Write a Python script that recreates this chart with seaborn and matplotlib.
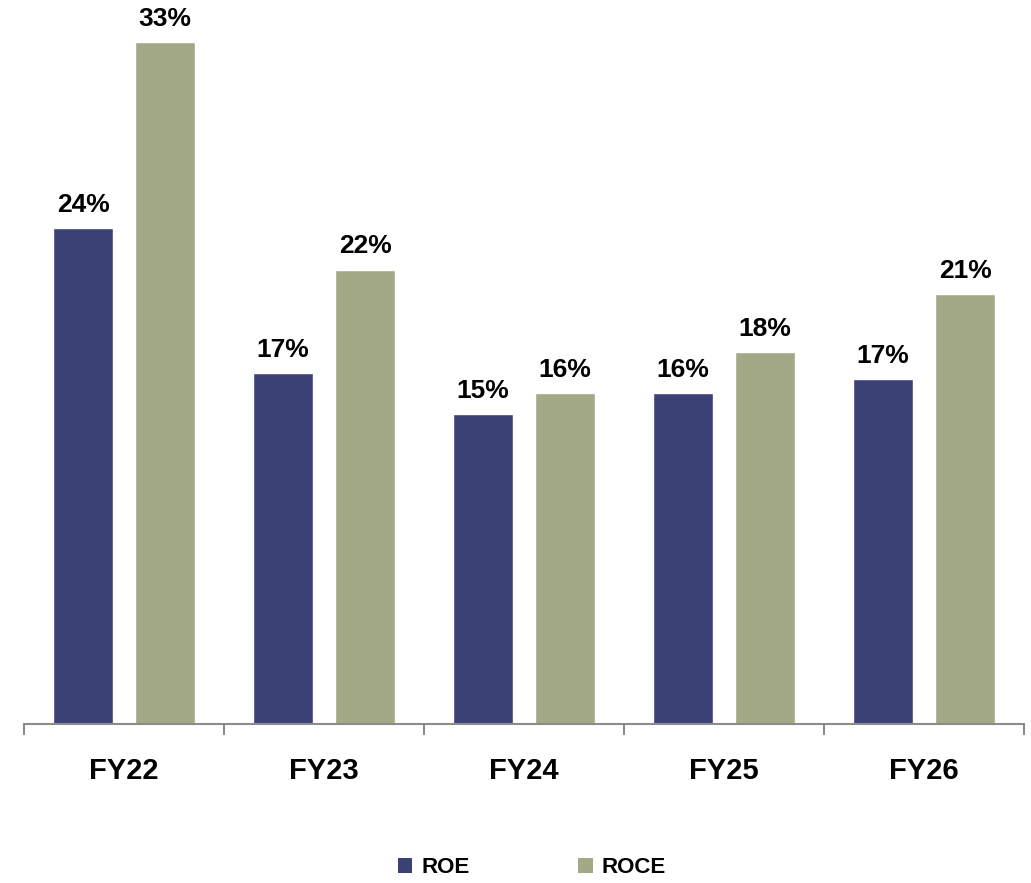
import numpy as np
import pandas as pd
import seaborn as sns
import matplotlib.pyplot as plt
from matplotlib.patches import Patch

# datos del grafico
years = ["FY22", "FY23", "FY24", "FY25", "FY26"]
roe = [24.0, 17.0, 15.0, 16.0, 16.7]
roce = [33.0, 22.0, 16.0, 18.0, 20.8]
series = ["ROE", "ROCE"]
colors = ["#3B4175", "#A3A987"]

df = pd.DataFrame({
    "year": years * 2,
    "metric": ["ROE"] * len(years) + ["ROCE"] * len(years),
    "value": roe + roce,
})

sns.set_style("white")
plt.rcParams["font.family"] = ["Liberation Sans", "DejaVu Sans"]

fig = plt.figure(figsize=(10.31, 8.83), dpi=100)
ax = fig.add_axes([24 / 1031, 159 / 883, 1000 / 1031, 723 / 883])

sns.barplot(data=df, x="year", y="value", hue="metric", hue_order=series,
            palette=colors, width=0.82, gap=0.27, ax=ax, legend=False,
            saturation=1, errorbar=None)

# etiquetas de valor
for cont in ax.containers:
    vals = cont.datavalues
    ax.bar_label(cont, labels=[f"{round(v)}%" for v in vals], padding=8,
                 fontsize=19, fontweight="bold", color="black")

ax.set_xlim(-0.5, len(years) - 0.5)
ax.set_ylim(0, 35)
ax.set_xlabel("")
ax.set_ylabel("")
ax.set_yticks([])
for s in ["left", "top", "right"]:
    ax.spines[s].set_visible(False)
ax.spines["bottom"].set_color("#8c8c8c")
ax.spines["bottom"].set_linewidth(1.5)

ax.set_xticks(np.arange(-0.5, len(years), 1.0), minor=True)
ax.tick_params(axis="x", which="major", length=0, pad=24, labelsize=21,
               labelcolor="black")
ax.tick_params(axis="x", which="minor", length=8, width=1.5, color="#8c8c8c",
               direction="out", bottom=True)
for t in ax.get_xticklabels():
    t.set_fontweight("bold")

handles = [Patch(facecolor=c, edgecolor="none", label=s) for s, c in zip(series, colors)]
leg = fig.legend(handles=handles, loc="center", bbox_to_anchor=(0.516, 0.017), ncol=2,
                 frameon=False, handlelength=0.65, handleheight=0.65, handletextpad=0.4,
                 columnspacing=4.9, prop={"weight": "bold", "size": 16})
for t in leg.get_texts():
    t.set_color("black")

fig.savefig("out.png", dpi=100)
